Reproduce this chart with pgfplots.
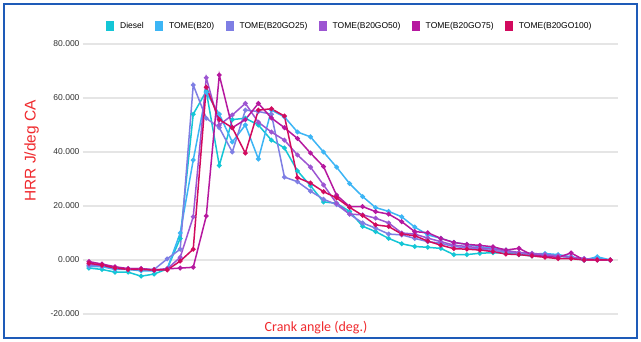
\documentclass[border=0pt]{standalone}
\usepackage{fontspec}
\setmainfont{Liberation Sans}
\newfontfamily\carlito{Carlito}
\usepackage{pgfplots}
\usepackage{pgfplotstable}
\pgfplotsset{compat=1.18}
\definecolor{cD}{HTML}{14C6D6}
\definecolor{cB}{HTML}{3CB5F5}
\definecolor{cGa}{HTML}{7E7EE4}
\definecolor{cGb}{HTML}{9C55D2}
\definecolor{cGc}{HTML}{B6189F}
\definecolor{cGd}{HTML}{D20A5E}
\definecolor{frameblue}{HTML}{1E5BB8}
\definecolor{lblred}{HTML}{F02A2E}

\pgfplotstableread{
i D B Ga Gb Gc Gd
0 -3 -2.5 -2 -1.5 -0.6 -1.2
1 -3.5 -2.5 -2.2 -2 -1.5 -1.9
2 -4.5 -3.5 -3 -3 -2.5 -3
3 -4.5 -3.5 -3.5 -3.2 -3.2 -3.5
4 -6 -4 -3.5 -3.2 -3.2 -3.5
5 -5.2 -4 -3.5 -3.7 -3.7 -3.7
6 -3.3 -3.3 0.4 -3.3 -3.3 -3.7
7 8 10 4 1 -3 -0.4
8 54 37 64.8 16 -2.7 4
9 62.5 62 52.5 67.5 16.3 64
10 35 54 49 50 68.5 52
11 52 43.7 40 53.7 49 49
12 52.5 50 55.5 58 52 39.6
13 50 37.4 55 51 58 55.5
14 44.4 55.5 54 47.4 52.6 56
15 41.5 53 30.7 44.4 49 53.3
16 33 47.4 29 38.9 45 30.5
17 27.5 45.6 25.5 34.4 39.6 28.5
18 21.5 40 22.5 27.8 34.6 25.3
19 21 34.4 20.5 21 24 23
20 18 28.3 17 17 19.8 19.5
21 12.5 23.5 13.7 16.7 19.8 16.5
22 10.5 19.4 11.8 15.5 17.9 13
23 8 18 9.6 13.7 17 12.4
24 6 16 9.3 10 14.2 9.6
25 5 12.2 8 9.6 10.5 9
26 4.7 9.3 6.8 8.1 10.1 7
27 4.3 8 6.2 6.8 8 5.5
28 2 6.5 5 5.5 6.5 4.2
29 2 5.8 4.5 5 5.8 4
30 2.5 4.9 4 4.5 5.4 3.7
31 2.7 4.3 3.5 4 4.9 3.1
32 2.5 3.7 3 3.5 3.7 2.2
33 2 2.2 2.5 2.8 4.3 2
34 1.5 2.2 2 2.5 1.9 1.5
35 2 2.4 2 2 1.3 1
36 1.5 2 1.5 1.5 1 0.5
37 1 1.2 1 1 2.6 0.5
38 0 0 0.5 0.5 0 0
39 0.6 1.2 0.3 0 0 0
40 0 0 0 0 0 0
}\hrrdata

\begin{document}
\begin{tikzpicture}
\useasboundingbox (0pt,0pt) rectangle (641pt,342pt);
\fill[white] (0pt,0pt) rectangle (641pt,342pt);
\draw[frameblue, line width=2pt] (4pt,3.5pt) rectangle (637pt,338pt);
\begin{axis}[
  at={(83pt,28pt)}, anchor=south west,
  scale only axis, width=535pt, height=270pt,
  xmin=-0.46, xmax=40.6, ymin=-20, ymax=80,
  axis line style={draw=none},
  xtick=\empty,
  ytick={-20,0,20,40,60,80},
  major tick length=0pt,
  ymajorgrids,
  grid style={draw=black!10, line width=1.2pt},
  /pgf/number format/fixed,
  /pgf/number format/fixed zerofill,
  /pgf/number format/precision=3,
  /pgf/number format/1000 sep={},
  /pgf/number format/assume math mode=true,
  yticklabel style={font=\fontsize{8.5}{10}\selectfont, text=black!80},
  legend columns=6,
  legend style={draw=none, fill=none, at={(0.499,1.067)}, anchor=center,
    font=\fontsize{8.5}{10}\selectfont,
    /tikz/every even column/.append style={column sep=9.5pt}},
  legend image code/.code={\fill[#1, draw=none] (0pt,-5pt) rectangle (8pt,5pt); \path (11pt,0pt);},
  every axis plot/.append style={line width=1.5pt, mark=*, mark size=1.6pt},
]
\addplot[color=cD] table[x=i,y=D] {\hrrdata};
\addlegendentry{Diesel}
\addplot[color=cB] table[x=i,y=B] {\hrrdata};
\addlegendentry{TOME(B20)}
\addplot[color=cGa] table[x=i,y=Ga] {\hrrdata};
\addlegendentry{TOME(B20GO25)}
\addplot[color=cGb] table[x=i,y=Gb] {\hrrdata};
\addlegendentry{TOME(B20GO50)}
\addplot[color=cGc] table[x=i,y=Gc] {\hrrdata};
\addlegendentry{TOME(B20GO75)}
\addplot[color=cGd] table[x=i,y=Gd] {\hrrdata};
\addlegendentry{TOME(B20GO100)}
\end{axis}
\node[rotate=90, text=lblred, font=\fontsize{15.5}{17}\selectfont] at (31.5pt,191pt) {HRR J/deg CA};
\node[text=lblred, font=\carlito\fontsize{14}{16}\selectfont] at (316pt,14pt) {Crank angle (deg.)};
\end{tikzpicture}
\end{document}
